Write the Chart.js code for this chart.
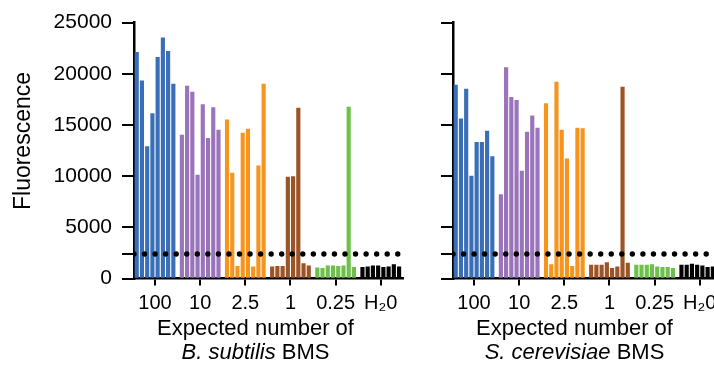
<!DOCTYPE html>
<html>
<head>
<meta charset="utf-8">
<script src="https://cdn.jsdelivr.net/npm/chart.js@4.4.0/dist/chart.umd.min.js"></script>
<style>
  html, body { margin: 0; padding: 0; background: #fff; overflow: hidden; width: 714px; height: 365px; }
  .panel { position: absolute; top: 0; width: 420px; height: 365px; }
  #left { left: 0; }
  #right { left: 319px; }
</style>
</head>
<body>
<div class="panel" id="left"><canvas id="bsChart"></canvas></div>
<div class="panel" id="right"><canvas id="scChart"></canvas></div>
<script>
// Data
const doseLabels = ["100", "10", "2.5", "1", "0.25", "H₂0"];
const yTicks = [0, 5000, 10000, 15000, 20000, 25000];
const threshold = 2400;

// B. subtilis BMS
const bsub100 = [22100, 19300, 12900, 16100, 21600, 23500, 22200, 19000];
const bsub10 = [14000, 18800, 18200, 10100, 17000, 13700, 16700, 14500];
const bsub2_5 = [15500, 10300, 1200, 14200, 14600, 1150, 11000, 19000];
const bsub1 = [1150, 1200, 1200, 9900, 9950, 16650, 1450, 1250];
const bsub0_25 = [1050, 1000, 1250, 1250, 1200, 1250, 16750, 1100];
const bsubH2O = [1100, 1150, 1250, 1250, 1100, 1150, 1350, 1150];

// S. cerevisiae BMS
const scer100 = [18900, 15600, 18500, 10000, 13300, 13300, 14400, 11900];
const scer10 = [8200, 20600, 17700, 17400, 10500, 14300, 15900, 14700];
const scer2_5 = [17100, 1350, 19200, 14500, 11700, 1200, 14700, 14650];
const scer1 = [1300, 1300, 1300, 1550, 1000, 1150, 18700, 1500];
const scer0_25 = [1300, 1300, 1300, 1350, 1150, 1100, 1100, 1000];
const scerH2O = [1300, 1300, 1400, 1300, 1250, 1100, 1150, 1150];

const groupColors = ["#3A6FB8", "#9A74BA", "#F7941E", "#9C5427", "#6DC14B", "#000000"];

// Layout of bars along a linear x scale
const groupStep = 8.63;
const xMin = -0.52, xMax = 50.9;
const groupCenters = doseLabels.map((_, g) => g * groupStep + 3.5);

const FONT = "'Liberation Sans', Arial, Helvetica, sans-serif";

function buildDatasets(groups) {
  const sets = groups.map((vals, g) => ({
    type: "bar",
    data: vals.map((v, i) => ({ x: g * groupStep + i, y: v })),
    backgroundColor: groupColors[g],
    borderWidth: 0,
    barThickness: 3.5,
    grouped: false,
    order: 1,
  }));
  // detection threshold, dotted
  sets.push({
    type: "line",
    data: [{ x: xMin, y: threshold }, { x: xMax, y: threshold }],
    borderColor: "#000",
    borderWidth: 5.4,
    borderDash: [0, 10.55],
    borderCapStyle: "round",
    pointRadius: 0,
    order: 0,
  });
  return sets;
}

// Axis titles drawn as text under/beside the plot
const titlePlugin = {
  id: "panelTitles",
  afterDraw(chart, args, opts) {
    const ctx = chart.ctx;
    const area = chart.chartArea;
    const cx = (area.left + area.right) / 2 - 13;
    ctx.save();
    ctx.fillStyle = "#000";
    ctx.textBaseline = "alphabetic";
    ctx.textAlign = "center";
    ctx.font = "22px " + FONT;
    ctx.fillText("Expected number of", cx, 335);
    // second line: italic species + BMS
    const italicFont = "italic 22px " + FONT;
    const normalFont = "22px " + FONT;
    ctx.font = italicFont;
    const w1 = ctx.measureText(opts.species).width;
    ctx.font = normalFont;
    const w2 = ctx.measureText(" BMS").width;
    const x0 = cx - (w1 + w2) / 2;
    ctx.textAlign = "left";
    ctx.font = italicFont;
    ctx.fillText(opts.species, x0, 359);
    ctx.font = normalFont;
    ctx.fillText(" BMS", x0 + w1, 359);
    if (opts.yTitle) {
      ctx.translate(24, 141);
      ctx.rotate(-Math.PI / 2);
      ctx.textAlign = "center";
      ctx.textBaseline = "middle";
      ctx.font = "23px " + FONT;
      ctx.fillText(opts.yTitle, 0, 0);
    }
    ctx.restore();
  },
};

function makeChart(id, groups, species, showYLabels) {
  new Chart(document.getElementById(id), {
    data: { datasets: buildDatasets(groups) },
    plugins: [titlePlugin],
    options: {
      responsive: true,
      maintainAspectRatio: false,
      animation: false,
      layout: { padding: { top: 20, left: 0, right: 17, bottom: 0 } },
      plugins: {
        legend: { display: false },
        tooltip: { enabled: false },
        panelTitles: { species: species, yTitle: showYLabels ? "Fluorescence" : null },
      },
      scales: {
        x: {
          type: "linear",
          min: xMin,
          max: xMax,
          offset: false,
          afterFit: (s) => { s.height = 86.5; },
          afterBuildTicks: (s) => { s.ticks = groupCenters.map((v) => ({ value: v })); },
          ticks: {
            color: "#000",
            font: { family: FONT, size: 20 },
            padding: 6,
            autoSkip: false,
            maxRotation: 0,
            callback: (v, i) => doseLabels[i],
          },
          grid: { offset: false, drawOnChartArea: false, drawTicks: true, tickLength: 7, color: "#000", lineWidth: 2 },
          border: { display: true, color: "#000", width: 2.5 },
        },
        y: {
          min: 0,
          max: 25000,
          afterFit: (s) => { s.width = 134; },
          afterBuildTicks: (s) => {
            s.ticks = yTicks.concat([threshold]).map((v) => ({ value: v }));
          },
          ticks: {
            color: "#000",
            font: { family: FONT, size: 21 },
            padding: 10,
            callback: (v) => (showYLabels && yTicks.includes(v) ? String(v) : ""),
          },
          grid: { drawOnChartArea: false, drawTicks: true, tickLength: 12, color: "#000", lineWidth: 2 },
          border: { display: true, color: "#000", width: 2.5 },
        },
      },
    },
  });
}

makeChart("bsChart", [bsub100, bsub10, bsub2_5, bsub1, bsub0_25, bsubH2O], "B. subtilis", true);
makeChart("scChart", [scer100, scer10, scer2_5, scer1, scer0_25, scerH2O], "S. cerevisiae", false);
</script>
</body>
</html>
